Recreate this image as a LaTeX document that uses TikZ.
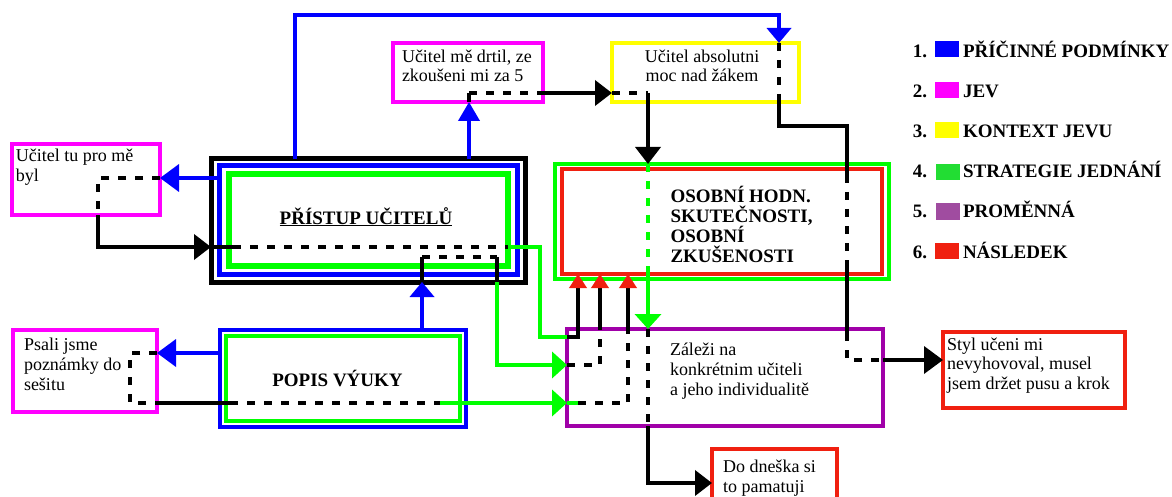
\documentclass[tikz,border=0pt]{standalone}
\usepackage{fontspec}
\setmainfont{Liberation Serif}
\usetikzlibrary{arrows.meta}
\definecolor{cBlue}{HTML}{0000FF}
\definecolor{cMag}{HTML}{FF00FF}
\definecolor{cYel}{HTML}{FFFF00}
\definecolor{cGreen}{HTML}{00FF00}
\definecolor{cRed}{HTML}{F02010}
\definecolor{cPur}{HTML}{A000A8}
\definecolor{cLGreen}{HTML}{22DD33}
\definecolor{cLPur}{HTML}{A04CA0}
\begin{document}
\begin{tikzpicture}[x=1pt,y=-1pt,
  every node/.style={inner sep=0pt, outer sep=0pt},
  box/.style={draw, rectangle, line width=3.5pt},
  txt/.style={anchor=base west, align=left, font=\fontsize{18}{20}\selectfont},
  ttxt/.style={anchor=base west, align=left, font=\fontsize{18}{19}\selectfont},
  ctxt/.style={anchor=base, align=center, font=\fontsize{18}{19}\selectfont},
  btxt/.style={anchor=base west, align=left, font=\bfseries\fontsize{19}{20}\selectfont},
  conn/.style={line width=3.8pt},
  bl/.style={conn, draw=cBlue},
  blk/.style={conn, draw=black},
  dsh/.style={conn, draw=black, dash pattern=on 8pt off 9pt},
  grn/.style={conn, draw=cGreen},
  gdsh/.style={conn, draw=cGreen, dash pattern=on 8pt off 9pt},
  tipB/.style={-{Triangle[length=19pt,width=27pt]}},
  tipBs/.style={-{Triangle[length=15pt,width=24pt]}},
  tipBn/.style={-{Triangle[length=19pt,width=21pt]}},
  tipK/.style={-{Triangle[length=17pt,width=25pt]}},
  tipG/.style={-{Triangle[length=15pt,width=26pt]}},
  tipR/.style={-{Triangle[length=14pt,width=17pt,color=cRed,fill=cRed]}},
  legsq/.style={rectangle, minimum width=24pt, minimum height=16pt}
]
\path[use as bounding box] (0,0) rectangle (1172,497);
\clip (0,0) rectangle (1172,497);

% ---------- boxes ----------
\node[box, draw=cMag, minimum width=148pt, minimum height=71pt] (b1) at (86,179.5) {};
\node[box, draw=cMag, minimum width=150pt, minimum height=59pt] (b2) at (468,72.5) {};
\node[box, draw=cYel, minimum width=187pt, minimum height=59pt] (b3) at (705.5,72.5) {};
\node[box, draw=black, line width=5pt, minimum width=314pt, minimum height=123pt] (pristupK) at (368,220.5) {};
\node[box, draw=cBlue, line width=5pt, minimum width=298pt, minimum height=108.5pt] (pristupB) at (368.5,219.75) {};
\node[box, draw=cGreen, line width=5.5pt, minimum width=279pt, minimum height=92pt] (pristupG) at (368.5,220) {};
\node[box, draw=cGreen, line width=4pt, minimum width=334pt, minimum height=115pt] (osG) at (722,221.5) {};
\node[box, draw=cRed, line width=4pt, minimum width=320pt, minimum height=105pt] (osR) at (722,221.5) {};
\node[box, draw=cBlue, line width=4pt, minimum width=246.5pt, minimum height=97pt] (popB) at (342.75,378) {};
\node[box, draw=cGreen, line width=4.5pt, minimum width=234pt, minimum height=85pt] (popG) at (343,378.5) {};
\node[box, draw=cMag, minimum width=144pt, minimum height=82pt] (psali) at (85,371) {};
\node[box, draw=cPur, line width=3.4pt, minimum width=316pt, minimum height=97pt] (pur) at (725,377.5) {};
\node[box, draw=cRed, line width=4pt, minimum width=182pt, minimum height=76pt] (styl) at (1034,370) {};
\node[box, draw=cRed, minimum width=125pt, minimum height=71pt] (dnes) at (774.5,484.5) {};

% ---------- texts (base anchor = baseline of last line) ----------
\node[txt] (t1) at (16,182) {Učitel tu pro mě\\byl};
\node[ttxt] (t2) at (402,82) {Učitel mě drtil, ze\\zkoušeni mi za 5};
\node[ctxt] (t3) at (702,82) {Učitel absolutni\\moc nad žákem};
\node[btxt, anchor=base] (tP) at (366,224) {\underline{PŘÍSTUP UČITELŮ}};
\node[btxt] (tOs) at (670.5,262) {OSOBNÍ HODN.\\SKUTEČNOSTI,\\OSOBNÍ\\ZKUŠENOSTI};
\node[btxt, anchor=base] (tPop) at (337.5,386.5) {POPIS VÝUKY};
\node[txt] (tPs) at (24,390) {Psali jsme\\poznámky do\\sešitu};
\node[txt] (tPur) at (670,395) {Záleži na\\konkrétnim učiteli\\a jeho individualitě};
\node[txt, font=\fontsize{18}{19.5}\selectfont] (tSt) at (947,389) {Styl učeni mi\\nevyhovoval, musel\\jsem držet pusu a krok};
\node[txt] (tDn) at (723,492) {Do dneška si\\to pamatuji};

% ---------- bend points ----------
\coordinate (cTopL) at (295,15);
\coordinate (cTopR) at (779,15);
\coordinate (cDr) at (469,93);
\coordinate (cAb) at (648,93);
\coordinate (cOs) at (648,267);
\coordinate (cDn) at (648,483);
\coordinate (cY1) at (779,126);
\coordinate (cY2) at (847,126);
\coordinate (cY3) at (847,175);
\coordinate (cY4) at (847,265);
\coordinate (cY5) at (847,333);
\coordinate (cY6) at (847,360);
\coordinate (cU1) at (98,178);
\coordinate (cU2) at (98,247);
\coordinate (cP1) at (233,247);
\coordinate (cP2) at (508,247);
\coordinate (cP3) at (540,247);
\coordinate (cP4) at (540,337);
\coordinate (cP5) at (578,337);
\coordinate (cQ1) at (422,257);
\coordinate (cQ2) at (497,257);
\coordinate (cQ4) at (497,365);
\coordinate (cQ5) at (600,365);
\coordinate (cS1) at (130,353);
\coordinate (cS2) at (130,403);
\coordinate (cS3) at (230,403);
\coordinate (cS4) at (440,403);
\coordinate (cS5) at (628,403);

% ---------- connectors ----------
% top blue loop to context box
\draw[bl, tipBs] (pristupK.north -| cTopL) -- (cTopL) -- (cTopR) -- (b3.north -| cTopR);
% to "Ucitel me drtil"
\draw[bl, tipBn] (pristupK.north -| cDr) -- (b2.south -| cDr);
\draw[blk] (b2.south -| cDr) -- (cDr);
\draw[dsh] (cDr) -- (b2.east |- cDr);
\draw[blk, tipK] (b2.east |- cDr) -- (b3.west |- cDr);
\draw[dsh] (b3.west |- cDr) -- (cAb);
\draw[blk, tipK] (cAb) -- (osG.north -| cAb);
\draw[gdsh] (osG.north -| cAb) -- (cOs);
\draw[grn, tipG] (cOs) -- (pur.north -| cAb);
\draw[dsh] (pur.north -| cAb) -- (pur.south -| cAb);
\draw[blk, tipK] (pur.south -| cAb) -- (cDn) -- (dnes.west |- cDn);
% from context box to "Styl uceni"
\draw[dsh] (b3.north -| cTopR) -- (b3.south -| cTopR);
\draw[blk] (b3.south -| cTopR) -- (cY1) -- (cY2) -- (cY3);
\draw[dsh] (cY3) -- (cY4);
\draw[blk] (cY4) -- (cY5);
\draw[dsh] (cY5) -- (cY6) -- (pur.east |- cY6);
\draw[blk, tipB] (pur.east |- cY6) -- (styl.west |- cY6);
% "Ucitel tu pro me byl"
\draw[bl, tipB] (pristupB.west |- cU1) -- (b1.east |- cU1);
\draw[dsh] (b1.east |- cU1) -- (cU1) -- (b1.south -| cU1);
\draw[blk, tipK] (b1.south -| cU1) -- (cU2) -- (pristupK.west |- cU2);
\draw[blk] (pristupK.west |- cU2) -- (cP1);
\draw[dsh] (cP1) -- (cP2);
\draw[grn] (cP2) -- (cP3) -- (cP4) -- (pur.west |- cP4);
\draw[blk, tipR] (pur.west |- cP4) -- (cP5) -- (osR.south -| cP5);
% popis -> pristup
\draw[bl, tipBs] (popB.north -| cQ1) -- (pristupK.south -| cQ1);
\draw[blk] (pristupK.south -| cQ1) -- (cQ1);
\draw[dsh] (cQ1) -- (cQ2);
\draw[blk] (cQ2) -- (pristupK.south -| cQ2);
\draw[grn, tipG] (pristupK.south -| cQ2) -- (cQ4) -- (pur.west |- cQ4);
\draw[dsh] (pur.west |- cQ4) -- (cQ5) -- (pur.north -| cQ5);
\draw[blk, tipR] (pur.north -| cQ5) -- (osR.south -| cQ5);
% "Psali jsme"
\draw[bl, tipB] (popB.west |- cS1) -- (psali.east |- cS1);
\draw[dsh] (psali.east |- cS1) -- (cS1) -- (cS2) -- (psali.east |- cS2);
\draw[blk] (psali.east |- cS2) -- (cS3);
\draw[dsh] (cS3) -- (cS4);
\draw[grn, tipG] (cS4) -- (pur.west |- cS2);
\draw[grn] (pur.west |- cS2) -- ++(11,0);
\draw[dsh] ([xshift=11pt]pur.west |- cS2) -- (cS5) -- (pur.north -| cS5);
\draw[blk, tipR] (pur.north -| cS5) -- (osR.south -| cS5);

% ---------- legend ----------
\node[legsq, fill=cBlue] (l1) at (947,49) {};
\node[legsq, fill=cMag] (l2) at (946.5,90.5) {};
\node[legsq, fill=cYel] (l3) at (946.5,130.5) {};
\node[legsq, fill=cLGreen] (l4) at (948,172) {};
\node[legsq, fill=cLPur] (l5) at (948,211.5) {};
\node[legsq, fill=cRed] (l6) at (946.5,251) {};
\node[btxt, anchor=base east] (n1) at (927,58) {1.};
\node[btxt, anchor=base east] (n2) at (927,98) {2.};
\node[btxt, anchor=base east] (n3) at (927,138) {3.};
\node[btxt, anchor=base east] (n4) at (927,178) {4.};
\node[btxt, anchor=base east] (n5) at (927,218) {5.};
\node[btxt, anchor=base east] (n6) at (927,258) {6.};
\node[btxt] (g1) at (963,58) {PŘÍČINNÉ PODMÍNKY};
\node[btxt] (g2) at (963,98) {JEV};
\node[btxt] (g3) at (963,138) {KONTEXT JEVU};
\node[btxt] (g4) at (963,178) {STRATEGIE JEDNÁNÍ};
\node[btxt] (g5) at (963,218) {PROMĚNNÁ};
\node[btxt] (g6) at (963,258) {NÁSLEDEK};
\end{tikzpicture}
\end{document}
